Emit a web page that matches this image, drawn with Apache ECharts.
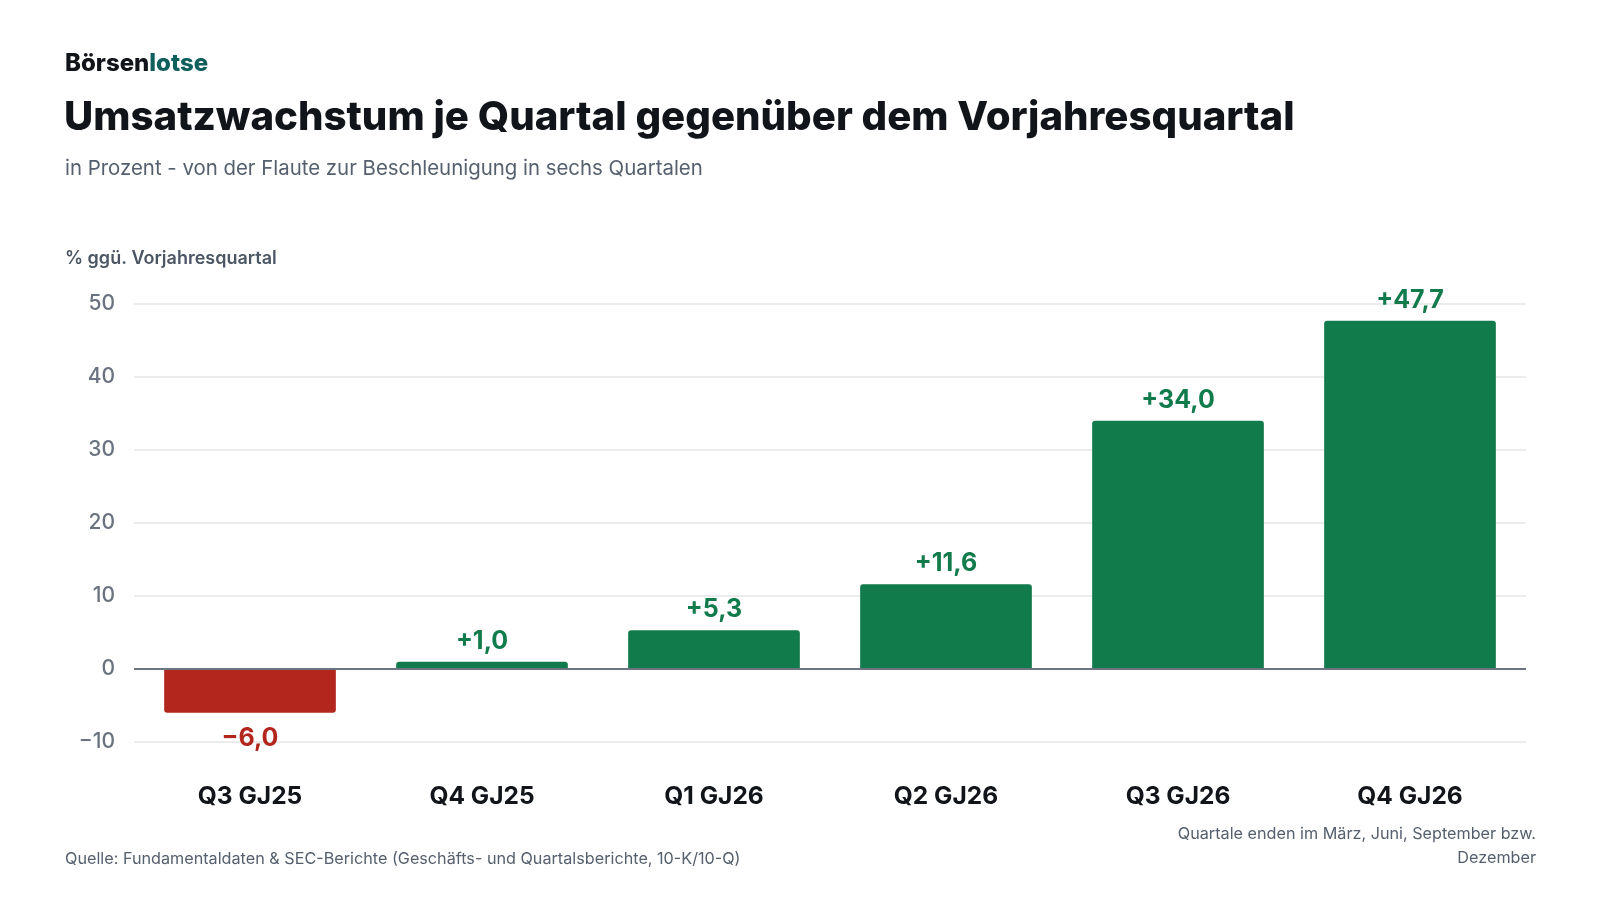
<!DOCTYPE html>
<html lang="de">
<head>
    <meta charset="UTF-8">
    <title>Umsatzwachstum je Quartal</title>
    <script src="https://cdn.jsdelivr.net/npm/echarts@6/dist/echarts.min.js"></script>
    <style>
        html, body { margin: 0; padding: 0; background: #fff; }
        #main { width: 1600px; height: 900px; }
    </style>
</head>
<body>
<div id="main"></div>
<script type="text/javascript">
    var quartale = ['Q3 GJ25', 'Q4 GJ25', 'Q1 GJ26', 'Q2 GJ26', 'Q3 GJ26', 'Q4 GJ26'];
    var wachstum = [-6.0, 1.0, 5.3, 11.6, 34.0, 47.7];
    var yTicks = [-10, 0, 10, 20, 30, 40, 50];

    var gruen = '#117b4c';
    var rot = '#b3261e';
    var font = 'Inter';

    function fmt(v) {
        var s = Math.abs(v).toFixed(1).replace('.', ',');
        return (v < 0 ? '\u2212' : '+') + s;
    }

    var barData = [];
    for (var i = 0; i < wachstum.length; i++) {
        var neg = wachstum[i] < 0;
        barData.push({
            value: wachstum[i],
            itemStyle: {
                color: neg ? rot : gruen,
                borderRadius: neg ? [0, 0, 3, 3] : [3, 3, 0, 0]
            },
            label: {
                position: neg ? 'bottom' : 'top',
                distance: neg ? 13 : 8,
                color: neg ? rot : gruen
            }
        });
    }

    // Fußnote rechts, zwei rechtsbündige Zeilen
    var fussnote = ['Quartale enden im März, Juni, September bzw.', 'Dezember'];
    var fussGraphic = fussnote.map(function (t, k) {
        return {
            type: 'text',
            right: 64,
            top: 826 + k * 24,
            style: { text: t, fontFamily: font, fontSize: 16.2, fill: '#555f6d' }
        };
    });

    var chartDom = document.getElementById('main');
    var myChart = echarts.init(chartDom);
    var option;

    option = {
        backgroundColor: '#ffffff',
        textStyle: { fontFamily: font },
        title: [
            {
                left: 60, top: 47,
                text: '{a|Börsen}{b|lotse}',
                textStyle: {
                    rich: {
                        a: { fontFamily: font, fontSize: 24, fontWeight: 800, color: '#111418' },
                        b: { fontFamily: font, fontSize: 24, fontWeight: 800, color: '#0f5f5c' }
                    }
                }
            },
            {
                left: 59, top: 93,
                text: 'Umsatzwachstum je Quartal gegenüber dem Vorjahresquartal',
                textStyle: { fontFamily: font, fontSize: 40.2, fontWeight: 800, color: '#111418' }
            },
            {
                left: 60, top: 154,
                text: 'in Prozent - von der Flaute zur Beschleunigung in sechs Quartalen',
                textStyle: { fontFamily: font, fontSize: 20.4, fontWeight: 'normal', color: '#555f6d' }
            },
            {
                left: 60, top: 245,
                text: '% ggü. Vorjahresquartal',
                textStyle: { fontFamily: font, fontSize: 18, fontWeight: 600, color: '#4b5563' }
            },
            {
                left: 60, top: 846,
                text: 'Quelle: Fundamentaldaten & SEC-Berichte (Geschäfts- und Quartalsberichte, 10-K/10-Q)',
                textStyle: { fontFamily: font, fontSize: 16.2, fontWeight: 'normal', color: '#555f6d' }
            }
        ],
        graphic: fussGraphic,
        grid: {
            left: 134,
            right: 74,
            top: 304,
            bottom: 158,
            containLabel: false
        },
        xAxis: {
            type: 'category',
            data: quartale,
            axisTick: { show: false },
            axisLine: { show: false },
            axisLabel: {
                margin: 42,
                fontFamily: font,
                fontSize: 24.5,
                fontWeight: 'bold',
                color: '#111418'
            }
        },
        yAxis: {
            type: 'value',
            min: yTicks[0],
            max: yTicks[yTicks.length - 1],
            interval: 10,
            axisLine: { show: false },
            axisTick: { show: false },
            splitLine: { lineStyle: { color: '#e6e6e6', width: 1.5 } },
            axisLabel: {
                margin: 19,
                fontFamily: font,
                fontSize: 21,
                fontWeight: 500,
                color: '#6b7280',
                formatter: function (v) {
                    return v < 0 ? '\u2212' + Math.abs(v) : String(v);
                }
            }
        },
        series: [
            {
                type: 'bar',
                data: barData,
                barWidth: '74%',
                label: {
                    show: true,
                    fontFamily: font,
                    fontSize: 25,
                    fontWeight: 'bold',
                    formatter: function (p) { return fmt(p.value); }
                },
                markLine: {
                    silent: true,
                    symbol: 'none',
                    label: { show: false },
                    lineStyle: { color: '#6b7480', width: 2, type: 'solid' },
                    data: [{ yAxis: 0 }]
                }
            }
        ]
    };

    option && myChart.setOption(option);
    window.addEventListener("resize", function () {
        myChart.resize();
    });
</script>
</body>
</html>
